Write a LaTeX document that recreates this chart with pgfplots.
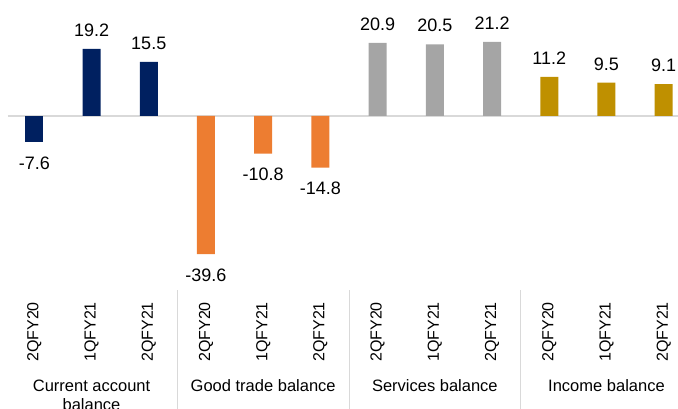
\documentclass[border=0pt]{standalone}
\usepackage{pgfplots}
\pgfplotsset{compat=1.18}
\usepackage{fontspec}
\setmainfont{Liberation Sans}
\definecolor{cnavy}{HTML}{002060}
\definecolor{corange}{HTML}{ED7D31}
\definecolor{cgray}{HTML}{A5A5A5}
\definecolor{cgold}{HTML}{BF9000}
\definecolor{cline}{HTML}{D9D9D9}
\pgfplotsset{
  posbar/.style={ybar, bar width=18pt, bar shift=0pt, draw=none,
    point meta=explicit symbolic, nodes near coords={\pgfplotspointmeta},
    every node near coord/.append style={anchor=base, yshift=12.5pt, text=black, font=\fontsize{18}{20}\selectfont}},
  negbar/.style={ybar, bar width=18pt, bar shift=0pt, draw=none,
    point meta=explicit symbolic, nodes near coords={\pgfplotspointmeta},
    every node near coord/.append style={anchor=base, yshift=-27.3pt, text=black, font=\fontsize{18}{20}\selectfont}},
}
\begin{document}
\begin{tikzpicture}
\useasboundingbox (0pt,0pt) rectangle (678pt,408pt);
\begin{axis}[
  at={(8pt,112pt)}, anchor=south west,
  scale only axis, width=670pt, height=296pt,
  xmin=-0.46, xmax=11.25, ymin=-51.6, ymax=33.2,
  axis line style={draw=none},
  major tick length=0pt,
  ytick=\empty,
  extra y ticks={0}, extra y tick labels={},
  extra y tick style={grid=major},
  major grid style={draw=cline, line width=1.3pt},
  xtick={0,...,11},
  xticklabels={2QFY20,1QFY21,2QFY21,2QFY20,1QFY21,2QFY21,2QFY20,1QFY21,2QFY21,2QFY20,1QFY21,2QFY21},
  xticklabel style={yshift=-6pt, rotate=90, anchor=east, inner sep=0pt, font=\fontsize{16}{19}\selectfont},
  clip=false,
]
\addplot[negbar, fill=cnavy] coordinates {(0,-7.6) [-7.6]};
\addplot[posbar, fill=cnavy] coordinates {(1,19.2) [19.2] (2,15.5) [15.5]};
\addplot[negbar, fill=corange] coordinates {(3,-39.6) [-39.6] (4,-10.8) [-10.8] (5,-14.8) [-14.8]};
\addplot[posbar, fill=cgray] coordinates {(6,20.9) [20.9] (7,20.5) [20.5] (8,21.2) [21.2]};
\addplot[posbar, fill=cgold] coordinates {(9,11.2) [11.2] (10,9.5) [9.5] (11,9.1) [9.1]};
\draw[cline, line width=1pt] (axis cs:2.5,-49.9) -- (axis cs:2.5,-95);
\draw[cline, line width=1pt] (axis cs:5.5,-49.9) -- (axis cs:5.5,-95);
\draw[cline, line width=1pt] (axis cs:8.5,-49.9) -- (axis cs:8.5,-95);
\node[anchor=base, font=\fontsize{16.5}{19}\selectfont] at (axis cs:1,-79) {Current account};
\node[anchor=base, font=\fontsize{16.5}{19}\selectfont] at (axis cs:1,-84.4) {balance};
\node[anchor=base, font=\fontsize{16.5}{19}\selectfont] at (axis cs:4,-79) {Good trade balance};
\node[anchor=base, font=\fontsize{16.5}{19}\selectfont] at (axis cs:7,-79) {Services balance};
\node[anchor=base, font=\fontsize{16.5}{19}\selectfont] at (axis cs:10,-79) {Income balance};
\end{axis}
\end{tikzpicture}
\end{document}
